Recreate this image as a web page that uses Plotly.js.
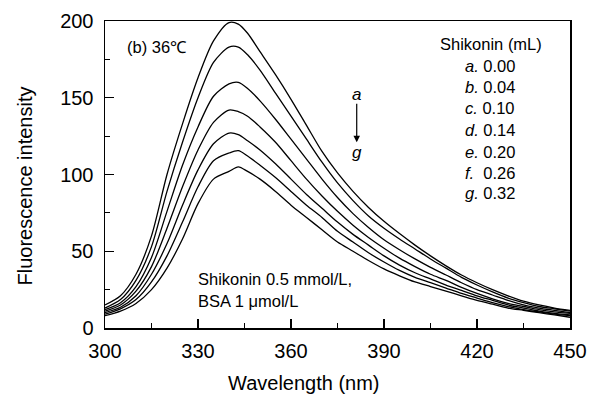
<!DOCTYPE html>
<html>
<head>
<meta charset="utf-8">
<script src="https://cdn.plot.ly/plotly-3.0.1.min.js"></script>
<style>html,body{margin:0;padding:0;background:#fff;}#chart{width:589px;height:395px;}</style>
</head>
<body>
<div id="chart"></div>
<script>
const wavelength = [300,305,310,315,320,325,330,335,340,343,346,350,355,360,365,370,375,380,385,390,395,400,405,410,415,420,425,430,435,440,445,450];
const curveA = [15,21,35,60,100,133,163,187,199,198,192,180,165,149,132,115,101,89,78.5,69.5,61.5,54,47,40.5,34.5,29.5,25,21,17.5,15,13,11.5];
const curveB = [13,18.5,31,53,89,121,150,173,183,183,178,168,153,138,123,108,94.5,83,73,65,58,51.5,45,39,33,28,23.5,19.5,16.5,14,12.5,11];
const curveC = [12,16.5,27,46,76,106,131,151,159,160,156,148,136,123,110,97,85,74.5,65.5,57.5,51,45,39.5,34.5,29.5,25,21.5,18,15,13,11.5,10];
const curveD = [11,15,24,40,65,92,116,134,142,141,138,131,121,109,97,86,76,67,59,52,45.5,40,35,31,26.5,22.5,19,16,14,12,10.5,9.5];
const curveE = [10,13.5,21,35,55,80,103,120,127,126,122,116,107,97,87,78,69,61,54,47,41,36,32,28,24.5,21,18,15,13,11,9.5,8.5];
const curveF = [9,12.5,18.5,30,47,69,92,109,114,115.5,112,106,98,89,80,72,63,56,49,43,37.5,33,29.5,26,22.5,19.5,16.5,14,12,10.5,9,8];
const curveG = [8,11,16,25,39,58,81,97,102,105,102,97,89,80,72,64,56,50,44,38.5,34,30,27,24,21,18,15.5,13,11.5,10,8.5,7];
const seriesNames = ['a','b','c','d','e','f','g'];
const concentrations = ['0.00','0.04','0.10','0.14','0.20','0.26','0.32'];
const xTicks = [300,330,360,390,420,450];
const yTicks = [0,50,100,150,200];

const allCurves = [curveA,curveB,curveC,curveD,curveE,curveF,curveG];
const traces = allCurves.map((ys,i)=>({
  x: wavelength, y: ys, type:'scatter', mode:'lines', name: seriesNames[i],
  line:{color:'#000', width:1.3, shape:'spline', smoothing:0.8}, showlegend:false
}));

const FONT = '"Liberation Sans", Arial, sans-serif';
const annotations = [
  {xref:'paper', yref:'paper', x:0.043, y:0.915, xanchor:'left', yanchor:'middle', showarrow:false,
   text:'(b) 36℃', font:{family:FONT, size:16.5, color:'#000'}},
  {xref:'paper', yref:'paper', x:0.716, y:0.924, xanchor:'left', yanchor:'middle', showarrow:false,
   text:'Shikonin (mL)', font:{family:FONT, size:16.5, color:'#000'}},
  {xref:'paper', yref:'paper', x:0.196, y:0.160, xanchor:'left', yanchor:'middle', showarrow:false,
   text:'Shikonin 0.5 mmol/L,', font:{family:FONT, size:16.5, color:'#000'}},
  {xref:'paper', yref:'paper', x:0.196, y:0.088, xanchor:'left', yanchor:'middle', showarrow:false,
   text:'BSA 1 μmol/L', font:{family:FONT, size:16.5, color:'#000'}},
  {xref:'paper', yref:'paper', x:0.541, y:0.762, xanchor:'center', yanchor:'middle', showarrow:false,
   text:'<i>'+seriesNames[0]+'</i>', font:{family:FONT, size:17, color:'#000'}},
  {xref:'paper', yref:'paper', x:0.541, y:0.573, xanchor:'center', yanchor:'middle', showarrow:false,
   text:'<i>'+seriesNames[6]+'</i>', font:{family:FONT, size:17, color:'#000'}},
  {xref:'x', yref:'y', x:381.2, y:121, axref:'x', ayref:'y', ax:381.2, ay:147, text:'',
   showarrow:true, arrowhead:2, arrowsize:1.1, arrowwidth:1.2, arrowcolor:'#000'},
  {xref:'paper', yref:'paper', x:0.428, y:-0.18, xanchor:'center', yanchor:'middle', showarrow:false,
   text:'Wavelength (nm)', font:{family:FONT, size:20, color:'#000'}},
  {xref:'paper', yref:'paper', x:-0.172, y:0.461, xanchor:'center', yanchor:'middle', showarrow:false, textangle:-90,
   text:'Fluorescence intensity', font:{family:FONT, size:20, color:'#000'}}
];
const itemY = [0.854,0.784,0.716,0.645,0.574,0.506,0.439];
seriesNames.forEach((n,i)=>{
  annotations.push({xref:'paper', yref:'paper', x:0.770, y:itemY[i], xanchor:'left', yanchor:'middle', showarrow:false,
    text:'<i>'+n+'.</i> '+(n==='f'?'&nbsp;':'')+concentrations[i], font:{family:FONT, size:16.5, color:'#000'}});
});

const layout = {
  width:589, height:395,
  margin:{l:105, r:19, t:21, b:67},
  paper_bgcolor:'#fff', plot_bgcolor:'#fff',
  font:{family:FONT, color:'#000'},
  xaxis:{range:[300,450], tickvals:xTicks, ticks:'inside', ticklen:9, tickwidth:1.3, tickcolor:'#000',
    minor:{dtick:15, tick0:300, ticks:'inside', ticklen:5, tickwidth:1.2, tickcolor:'#000'},
    showline:true, linecolor:'#000', linewidth:1.5, mirror:true, showgrid:false, zeroline:false,
    tickfont:{family:FONT, size:20, color:'#000'}, ticklabelstandoff:4},
  yaxis:{range:[0,200], tickvals:yTicks, ticks:'inside', ticklen:9, tickwidth:1.3, tickcolor:'#000',
    minor:{dtick:25, tick0:0, ticks:'inside', ticklen:5, tickwidth:1.2, tickcolor:'#000'},
    showline:true, linecolor:'#000', linewidth:1.5, mirror:true, showgrid:false, zeroline:false,
    tickfont:{family:FONT, size:20, color:'#000'}, ticklabelstandoff:6},
  annotations: annotations
};
Plotly.newPlot('chart', traces, layout, {staticPlot:true, displayModeBar:false});
</script>
</body>
</html>
